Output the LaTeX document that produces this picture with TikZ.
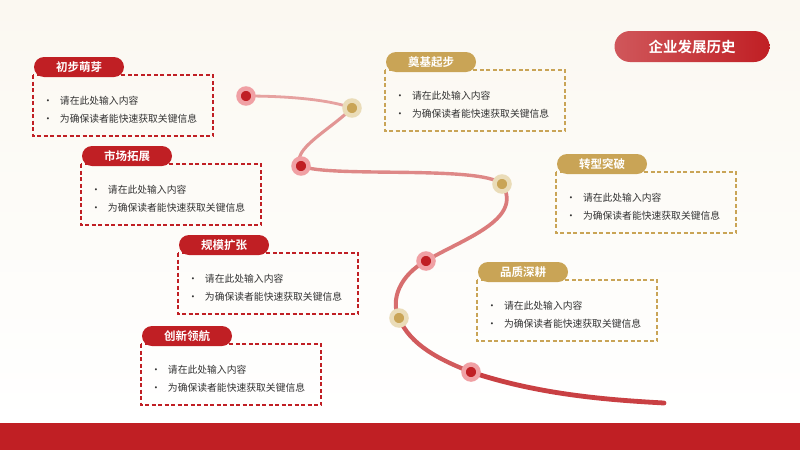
\documentclass[tikz,border=0pt]{standalone}
\usepackage{fontspec}
\setmainfont{Noto Sans CJK SC}
\newfontfamily\cjkb{Noto Sans CJK SC Bold}
\usetikzlibrary{shapes.misc}
\definecolor{bred}{HTML}{C01F24}
\definecolor{gold}{HTML}{C9A456}
\definecolor{pinkr}{HTML}{F0A0A4}
\definecolor{paleg}{HTML}{EADCB8}
\definecolor{linep}{HTML}{E6A2A0}
\definecolor{txt}{HTML}{333333}
\tikzset{
 pill/.style={rounded rectangle, minimum width=90pt, minimum height=20pt, inner sep=0pt, text=white, font=\cjkb\fontsize{11.5}{12}\selectfont},
 rbox/.style={draw=bred, line width=1.1pt, dash pattern=on 4pt off 2.5pt},
 gbox/.style={draw=gold, line width=1.1pt, dash pattern=on 4pt off 2.5pt},
 bul/.style={anchor=west, text=txt, font=\fontsize{9.8}{10}\selectfont, inner sep=0pt},
 rdot/.style={circle, fill=bred, minimum size=15pt, inner sep=0pt, draw=pinkr, line width=4.5pt},
 gdot/.style={circle, fill=gold, minimum size=15pt, inner sep=0pt, draw=paleg, line width=4.5pt},
}
\begin{document}
\begin{tikzpicture}[x=1pt,y=-1pt]
\useasboundingbox (0,0) rectangle (800,450);
\shade[top color=white!80!paleg, bottom color=white] (0,0) rectangle (800,423);
\fill[bred] (0,423) rectangle (800,450);
\node[rounded rectangle, minimum width=155pt, minimum height=31pt, inner sep=0pt, left color=bred!75!white, right color=bred, text=white, font=\cjkb\fontsize{14.5}{16}\selectfont] (title) at (692,46.5) {企业发展历史};
% path
\coordinate (p1) at (246,96);
\coordinate (p2) at (352,108);
\coordinate (p3) at (301,166);
\coordinate (p4) at (502,184);
\coordinate (p5) at (426,261);
\coordinate (p6) at (399,318);
\coordinate (p7) at (471,372);
\coordinate (p8) at (664,403);
\draw[linep, line width=2.8pt, line cap=round] (p1) .. controls (290,96) and (330,100) .. (p2);
\draw[linep!90!bred, line width=3.1pt, line cap=round] (p2) .. controls (330,130) and (290,150) .. (p3);
\draw[linep!80!bred, line width=3.4pt, line cap=round] (p3) .. controls (330,178) and (480,165) .. (p4);
\draw[linep!70!bred, line width=3.7pt, line cap=round] (p4) .. controls (525,220) and (460,240) .. (p5);
\draw[linep!60!bred, line width=4pt, line cap=round] (p5) .. controls (400,275) and (390,300) .. (p6);
\draw[linep!45!bred, line width=4.3pt, line cap=round] (p6) .. controls (410,345) and (440,360) .. (p7);
\draw[linep!25!bred, line width=4.8pt, line cap=round] (p7) .. controls (540,395) and (610,400) .. (p8);
\node[rdot] (d1) at (p1) {};
\node[gdot] (d2) at (p2) {};
\node[rdot] (d3) at (p3) {};
\node[gdot] (d4) at (p4) {};
\node[rdot] (d5) at (p5) {};
\node[gdot] (d6) at (p6) {};
\node[rdot] (d7) at (p7) {};
% boxes
\foreach \x/\y/\lab/\st/\fc [count=\i] in {
 33/75/初步萌芽/rbox/bred, 81/164/市场拓展/rbox/bred, 178/253/规模扩张/rbox/bred, 141/344/创新领航/rbox/bred,
 385/70/奠基起步/gbox/gold, 556/172/转型突破/gbox/gold, 477/280/品质深耕/gbox/gold}{
 \draw[\st] (\x,\y) rectangle ++(180,61);
 \node[pill, fill=\fc] (l\i) at (\x+46,\y-8) {\lab};
 \node[bul] (a\i) at (\x+10,\y+26) {•\hspace{7pt}请在此处输入内容};
 \node[bul] (b\i) at (\x+10,\y+44) {•\hspace{7pt}为确保读者能快速获取关键信息};
}
\end{tikzpicture}
\end{document}
